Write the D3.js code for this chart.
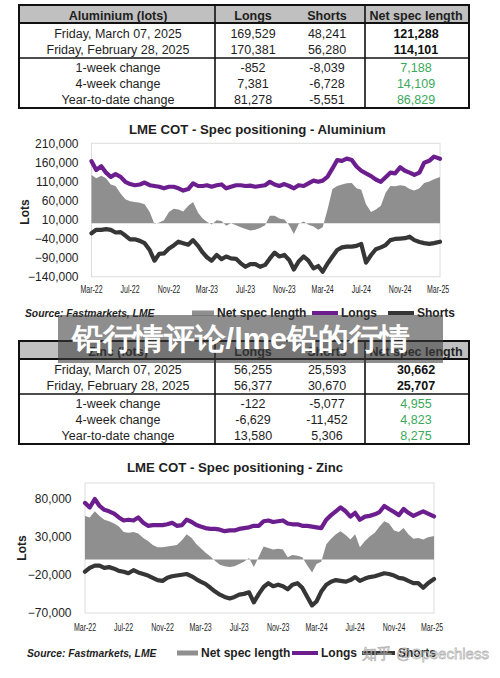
<!DOCTYPE html>
<html><head><meta charset="utf-8">
<script src="https://cdn.jsdelivr.net/npm/d3@7/dist/d3.min.js"></script>
<style>
body{margin:0;background:#fff}
svg{display:block}
text{font-family:"Liberation Sans",Arial,Helvetica,sans-serif}
</style>
</head><body>
<svg id="c" width="500" height="678"></svg>
<script>
// ---------------- DATA ----------------
// semi-monthly observation dates (shared by both charts)
const dates = [
"2022-03-01","2022-03-16","2022-04-01","2022-04-16","2022-05-01","2022-05-16","2022-06-01","2022-06-16","2022-07-01","2022-07-16",
"2022-08-01","2022-08-16","2022-09-01","2022-09-16","2022-10-01","2022-10-16","2022-11-01","2022-11-16","2022-12-01","2022-12-16",
"2023-01-01","2023-01-16","2023-02-01","2023-02-16","2023-03-01","2023-03-16","2023-04-01","2023-04-16","2023-05-01","2023-05-16",
"2023-06-01","2023-06-16","2023-07-01","2023-07-16","2023-08-01","2023-08-16","2023-09-01","2023-09-16","2023-10-01","2023-10-16",
"2023-11-01","2023-11-16","2023-12-01","2023-12-16","2024-01-01","2024-01-16","2024-02-01","2024-02-16","2024-03-01","2024-03-16",
"2024-04-01","2024-04-16","2024-05-01","2024-05-16","2024-06-01","2024-06-16","2024-07-01","2024-07-16","2024-08-01","2024-08-16",
"2024-09-01","2024-09-16","2024-10-01","2024-10-16","2024-11-01","2024-11-16","2024-12-01","2024-12-16","2025-01-01","2025-01-16",
"2025-02-01","2025-02-16","2025-03-07"];

// Aluminium (thousand lots)
const alLongs = [163,140,150,133,122,129,122,109,103,100,102,107,100,98,96,92,96,96,92,86,
90,105,98,98,100,96,100,102,92,96,100,100,98,99,96,98,100,109,102,98,
103,98,92,100,98,105,112,109,112,122,144,166,164,170,166,149,138,131,124,115,
109,121,133,131,147,138,133,127,133,159,164,175,169.529];
const alShorts = [-26,-17,-17,-15,-17,-24,-23,-32,-42,-42,-46,-52,-70,-98,-80,-79,-66,-58,-48,-52,
-56,-44,-59,-77,-89,-98,-83,-94,-87,-92,-93,-105,-114,-107,-107,-114,-109,-92,-77,-87,
-83,-96,-121,-100,-87,-98,-118,-112,-127,-106,-87,-70,-63,-61,-61,-59,-54,-103,-83,-68,
-63,-57,-44,-41,-40,-39,-35,-44,-49,-52,-54,-52,-48.241];
const alNet = [127,118,125,118,102,98,78,63,58,56,54,50,30,-2,2,8,30,38,36,31,
46,56,28,12,4,-3,8,6,-6,0,-5,-10,-15,-19,-17,-12,-5,20,20,13,
10,-5,-28,-2,5,-4,-8,-17,-10,35,90,98,102,105,106,92,88,50,30,36,
46,80,98,97,100,98,90,86,92,106,110,116,121.288];

// Zinc (thousand lots)
const znLongs = [74,68,79,70,65,63,60,55,51,52,51,55,48,44,45,45,45,46,48,44,
45,52,49,45,43,41,40,40,39,37,38,38,40,41,42,44,44,50,51,49,
50,51,47,46,46,44,44,43,42,41,52,58,63,68,63,56,61,52,56,57,
59,62,70,66,62,58,66,61,57,60,63,60,56.255];
const znShorts = [-16,-11,-8,-8,-11,-10,-12,-15,-16,-18,-14,-17,-19,-21,-24,-27,-28,-24,-22,-21,
-20,-19,-22,-26,-29,-32,-37,-42,-46,-49,-51,-49,-46,-45,-43,-56,-45,-36,-31,-35,
-33,-35,-39,-33,-31,-37,-49,-60,-55,-42,-33,-29,-27,-28,-29,-27,-23,-28,-25,-23,
-22,-20,-18,-19,-21,-24,-25,-28,-31,-31,-37,-31,-25.593];
const znNet = [57,55,63,57,52,50,47,43,36,35,36,34,28,24,19,16,16,17,18,19,
25,33,28,20,15,9,4,-2,-7,-9,-10,-9,-6,-3,2,-10,4,17,15,13,
14,13,3,6,5,3,-8,-17,-6,-3,20,27,33,37,32,26,33,16,24,30,
35,43,50,47,38,36,41,33,27,28,26,29,30.662];

// axis ticks
const xTickDates  = ["2022-03-01","2022-07-01","2022-11-01","2023-03-01","2023-07-01","2023-11-01","2024-03-01","2024-07-01","2024-11-01","2025-03-01"];
const xTickLabels = ["Mar-22","Jul-22","Nov-22","Mar-23","Jul-23","Nov-23","Mar-24","Jul-24","Nov-24","Mar-25"];
const alYTicks = [-140000,-90000,-40000,10000,60000,110000,160000,210000];
const znYTicks = [-70000,-20000,30000,80000];

// tables
const tableCols = ["Longs","Shorts","Net spec length"];
const alTableTitle = "Aluminium (lots)";
const alTableRows = [
 ["Friday, March 07, 2025","169,529","48,241","121,288"],
 ["Friday, February 28, 2025","170,381","56,280","114,101"],
 ["1-week change","-852","-8,039","7,188"],
 ["4-week change","7,381","-6,728","14,109"],
 ["Year-to-date change","81,278","-5,551","86,829"]];
const znTableTitle = "Zinc (lots)";
const znTableRows = [
 ["Friday, March 07, 2025","56,255","25,593","30,662"],
 ["Friday, February 28, 2025","56,377","30,670","25,707"],
 ["1-week change","-122","-5,077","4,955"],
 ["4-week change","-6,629","-11,452","4,823"],
 ["Year-to-date change","13,580","5,306","8,275"]];

const legendLabels = ["Net spec length","Longs","Shorts"];
const sourceText = "Source: Fastmarkets, LME";
const bannerText = "铅行情评论/lme铅的行情";
const watermarkText = "知乎 @Speechless";

// ---------------- DRAW ----------------
const svg = d3.select("#c");
const parse = d3.timeParse("%Y-%m-%d");
const D = dates.map(parse);
const C = {net:"#8f8f8f", longs:"#6c1d8e", shorts:"#363636", green:"#3aa95a", text:"#1e1e1e"};

function drawTable(top, title, rows){
  const g = svg.append("g");
  const L=19, R=469, H=103;
  g.append("rect").attr("x",L).attr("y",top).attr("width",R-L).attr("height",18).attr("fill","#c0c0c0");
  g.append("rect").attr("x",L).attr("y",top).attr("width",R-L).attr("height",H)
    .attr("fill","none").attr("stroke","#111").attr("stroke-width",2);
  g.append("line").attr("x1",L).attr("x2",R).attr("y1",top+18).attr("y2",top+18).attr("stroke","#111").attr("stroke-width",2);
  g.append("line").attr("x1",L).attr("x2",R).attr("y1",top+53).attr("y2",top+53).attr("stroke","#111").attr("stroke-width",1.6);
  [215,365].forEach(x=>g.append("line").attr("x1",x).attr("x2",x).attr("y1",top).attr("y2",top+H).attr("stroke","#111").attr("stroke-width",1.6));
  const cx=[118,253,327,416];
  const head=[title].concat(tableCols);
  head.forEach((t,i)=>g.append("text").attr("x",cx[i]).attr("y",top+14.5).attr("text-anchor","middle")
     .attr("font-size",12.5).attr("font-weight","bold").attr("fill",C.text).text(t));
  const ry=[28,44,62,78,94];
  rows.forEach((r,ri)=>{
    r.forEach((t,ci)=>{
      const tx=g.append("text").attr("x",cx[ci]).attr("y",top+ry[ri]+4.5).attr("text-anchor","middle")
        .attr("font-size",12.5).attr("fill",C.text).text(t);
      if(ci===3){
        if(ri<2) tx.attr("font-weight","bold").attr("fill","#111");
        else tx.attr("fill",C.green);
      }
    });
  });
}

function drawChart(o){
  const g = svg.append("g");
  const x = d3.scaleTime().domain(d3.extent(D)).range([o.x0,o.x1]);
  const y = d3.scaleLinear().domain(o.yDomain).range([o.y1,o.y0]);
  g.append("rect").attr("x",o.x0).attr("y",o.y0).attr("width",o.x1-o.x0).attr("height",o.y1-o.y0)
    .attr("fill","#fff").attr("stroke","#dcdcdc").attr("stroke-width",1);
  const net = o.net.map((v,i)=>({d:D[i],v:v*1000}));
  const lon = o.longs.map((v,i)=>({d:D[i],v:v*1000}));
  const sho = o.shorts.map((v,i)=>({d:D[i],v:v*1000}));
  g.append("path").datum(net).attr("fill",C.net)
    .attr("d",d3.area().x(d=>x(d.d)).y0(y(0)).y1(d=>y(d.v)));
  const line=d3.line().x(d=>x(d.d)).y(d=>y(d.v));
  g.append("path").datum(lon).attr("fill","none").attr("stroke",C.longs).attr("stroke-width",4.2)
    .attr("stroke-linejoin","round").attr("stroke-linecap","round").attr("d",line);
  g.append("path").datum(sho).attr("fill","none").attr("stroke",C.shorts).attr("stroke-width",4.2)
    .attr("stroke-linejoin","round").attr("stroke-linecap","round").attr("d",line);
  // y labels
  const fmt=d3.format(",");
  o.yTicks.forEach(t=>g.append("text").attr("x",o.yLabX).attr("y",y(t)+4.3).attr("text-anchor","end")
    .attr("font-size",12).attr("fill",C.text).text(fmt(t)));
  // x labels (condensed)
  xTickDates.forEach((t,i)=>{
    const tx=g.append("text").attr("x",x(parse(t))).attr("y",o.xLabY).attr("text-anchor","middle")
      .attr("font-size",10).attr("fill",C.text).text(xTickLabels[i]);
    const w=tx.node().getComputedTextLength();
    tx.attr("textLength",w*0.7).attr("lengthAdjust","spacingAndGlyphs");
  });
  // title
  g.append("text").attr("x",o.titleX).attr("y",o.titleY).attr("font-size",13.2).attr("font-weight","bold")
    .attr("fill",C.text).text(o.title);
  // Lots
  g.append("text").attr("transform",`translate(${o.lotsX},${o.lotsY}) rotate(-90)`).attr("text-anchor","middle")
    .attr("font-size",12).attr("font-weight","bold").attr("fill",C.text).text("Lots");
  // legend
  const ly=o.legY;
  g.append("text").attr("x",o.srcX).attr("y",ly+3.8).attr("font-size",10.3).attr("font-weight","bold")
    .attr("font-style","italic").attr("fill",C.text).text(sourceText);
  const lg=o.leg;
  g.append("rect").attr("x",lg[0]).attr("y",ly-2.5).attr("width",lg[1]-lg[0]).attr("height",5).attr("fill",C.net);
  g.append("text").attr("x",lg[1]+3).attr("y",ly+4.2).attr("font-size",12).attr("font-weight","bold").attr("fill",C.text).text(legendLabels[0]);
  g.append("line").attr("x1",lg[2]).attr("x2",lg[3]).attr("y1",ly).attr("y2",ly).attr("stroke",C.longs).attr("stroke-width",4);
  g.append("text").attr("x",lg[3]+3).attr("y",ly+4.2).attr("font-size",12).attr("font-weight","bold").attr("fill",C.text).text(legendLabels[1]);
  g.append("line").attr("x1",lg[4]).attr("x2",lg[5]).attr("y1",ly).attr("y2",ly).attr("stroke",C.shorts).attr("stroke-width",4);
  g.append("text").attr("x",lg[5]+3).attr("y",ly+4.2).attr("font-size",12).attr("font-weight","bold").attr("fill",C.text).text(legendLabels[2]);
}

drawTable(5, alTableTitle, alTableRows);
drawChart({title:"LME COT - Spec positioning - Aluminium", titleX:129, titleY:133.5,
  x0:91.5, x1:440, y0:143.3, y1:276.7, yDomain:[-140000,210000], yTicks:alYTicks, yLabX:78.5,
  xLabY:292.5, lotsX:29, lotsY:212, legY:313, srcX:25, leg:[192,214,312,338,388,414],
  net:alNet, longs:alLongs, shorts:alShorts});

drawTable(341, znTableTitle, znTableRows);
drawChart({title:"LME COT - Spec positioning - Zinc", titleX:127, titleY:471.5,
  x0:85, x1:434, y0:483, y1:613, yDomain:[-70000,100000], yTicks:znYTicks, yLabX:71.5,
  xLabY:630.5, lotsX:26, lotsY:548, legY:653, srcX:27, leg:[177,198,292,318,362,395],
  net:znNet, longs:znLongs, shorts:znShorts});

// overlay banner
svg.append("rect").attr("x",58).attr("y",315).attr("width",385).attr("height",48).attr("fill","rgba(60,60,60,0.58)");
svg.append("text").attr("x",72).attr("y",348.5).attr("font-family","'Noto Sans CJK SC',sans-serif")
  .attr("font-size",30).attr("font-weight","bold").attr("fill","#fff")
  .attr("textLength",338).attr("lengthAdjust","spacingAndGlyphs").text(bannerText);

// watermark
svg.append("text").attr("x",362).attr("y",659).attr("font-family","'Noto Sans CJK SC','Liberation Sans',sans-serif")
  .attr("font-size",15).attr("fill","rgba(255,255,255,0.65)").attr("stroke","rgba(120,120,120,0.55)")
  .attr("stroke-width",0.8).text(watermarkText);
</script>
</body></html>
